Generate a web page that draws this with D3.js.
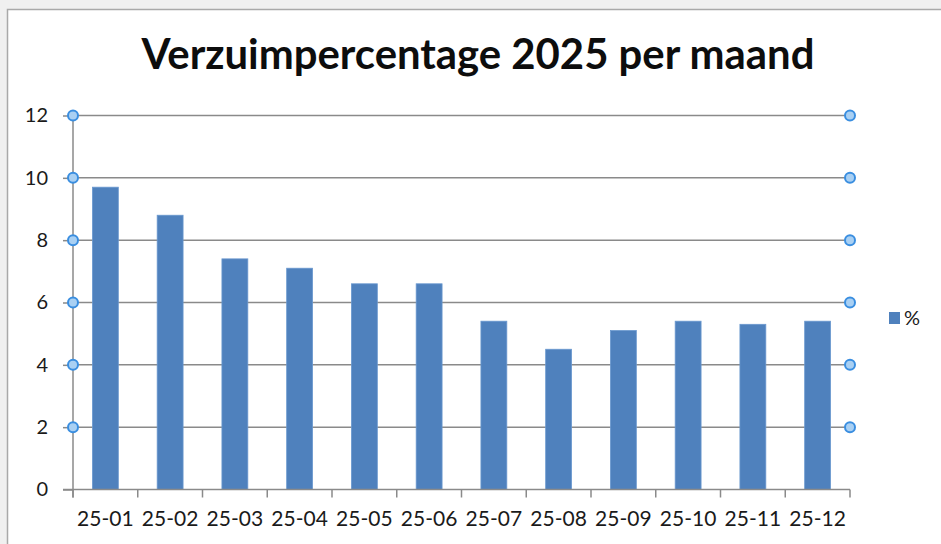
<!DOCTYPE html>
<html>
<head>
<meta charset="utf-8">
<script src="https://cdn.jsdelivr.net/npm/d3@7"></script>
<style>
  body { margin: 0; background: #f0f0f0; }
  svg { display: block; font-family: Lato, "Open Sans", sans-serif; }
</style>
</head>
<body>
<svg id="chart" width="941" height="544"></svg>
<script>
// data
var months = ["25-01","25-02","25-03","25-04","25-05","25-06","25-07","25-08","25-09","25-10","25-11","25-12"];
var percent = [9.7, 8.8, 7.4, 7.1, 6.6, 6.6, 5.4, 4.5, 5.1, 5.4, 5.3, 5.4];
var yTicks = [0, 2, 4, 6, 8, 10, 12];
var seriesName = "%";
var title = "Verzuimpercentage 2025 per maand";

var svg = d3.select("#chart");

// chart frame (runs off the right and bottom of the window)
svg.append("rect")
  .attr("x", 7.5).attr("y", 9.5)
  .attr("width", 960).attr("height", 560)
  .attr("fill", "#fff")
  .attr("stroke", "#a9a9a9")
  .attr("stroke-width", 1.5);

var plotLeft = 73, plotRight = 850, plotTop = 115.5, plotBottom = 489.5;

var y = d3.scaleLinear().domain([0, 12]).range([plotBottom, plotTop]);
var x = d3.scaleBand()
  .domain(months)
  .range([plotLeft, plotRight])
  .paddingInner(0.6)
  .paddingOuter(0.3);

var gridColor = "#8a8a8a";

// gridlines
svg.append("g").selectAll("line")
  .data(yTicks.filter(function(d){ return d > 0; }))
  .enter().append("line")
  .attr("x1", plotLeft).attr("x2", plotRight)
  .attr("y1", function(d){ return y(d); })
  .attr("y2", function(d){ return y(d); })
  .attr("stroke", gridColor)
  .attr("stroke-width", 1.5);

// bars
svg.append("g").selectAll("rect")
  .data(percent)
  .enter().append("rect")
  .attr("x", function(d, i){ return x(months[i]); })
  .attr("width", x.bandwidth())
  .attr("y", function(d){ return y(d); })
  .attr("height", function(d){ return plotBottom - y(d); })
  .attr("fill", "#4f81bd")
  .attr("stroke", "#6a98cf")
  .attr("stroke-width", 0.8);

// y axis
var yAxis = d3.axisLeft(y).tickValues(yTicks).tickSize(10).tickPadding(15);
var yG = svg.append("g").attr("transform", "translate(" + plotLeft + ",0)").call(yAxis);
yG.select(".domain").remove();
yG.selectAll(".tick line").attr("stroke", gridColor).attr("stroke-width", 1.5);
yG.selectAll(".tick text")
  .attr("font-size", 20)
  .attr("font-family", "Lato, sans-serif")
  .attr("fill", "#1a1a1a");

svg.append("line")
  .attr("x1", plotLeft).attr("x2", plotLeft)
  .attr("y1", plotTop).attr("y2", plotBottom + 8)
  .attr("stroke", gridColor).attr("stroke-width", 1.5);

// x axis labels
var xAxis = d3.axisBottom(x).tickSize(0).tickPadding(22);
var xG = svg.append("g").attr("transform", "translate(0," + plotBottom + ")").call(xAxis);
xG.select(".domain").remove();
xG.selectAll(".tick text")
  .attr("font-size", 21)
  .attr("font-family", "Lato, sans-serif")
  .attr("fill", "#1a1a1a");

svg.append("line")
  .attr("x1", plotLeft - 10).attr("x2", plotRight)
  .attr("y1", plotBottom).attr("y2", plotBottom)
  .attr("stroke", gridColor).attr("stroke-width", 1.5);

// x tick marks at category borders
var step = x.step();
var borders = months.map(function(m){ return x(m) - step * 0.3; }).concat([plotRight]);
svg.append("g").selectAll("line")
  .data(borders)
  .enter().append("line")
  .attr("x1", function(d){ return d; }).attr("x2", function(d){ return d; })
  .attr("y1", plotBottom).attr("y2", plotBottom + 8)
  .attr("stroke", gridColor).attr("stroke-width", 1.5);

// selection handles at gridline ends
var handles = [];
yTicks.filter(function(d){ return d > 0; }).forEach(function(d){
  handles.push({x: plotLeft, v: d});
  handles.push({x: plotRight, v: d});
});
svg.append("g").selectAll("circle")
  .data(handles)
  .enter().append("circle")
  .attr("cx", function(d){ return d.x; })
  .attr("cy", function(d){ return y(d.v); })
  .attr("r", 5)
  .attr("fill", "#a9d0f3")
  .attr("stroke", "#3a8ee0")
  .attr("stroke-width", 2);

// legend
svg.append("rect")
  .attr("x", 889).attr("y", 312)
  .attr("width", 11).attr("height", 12)
  .attr("fill", "#4f81bd");
svg.append("text")
  .attr("x", 904).attr("y", 325)
  .attr("font-size", 20)
  .attr("fill", "#1a1a1a")
  .text(seriesName);

// title, sized to the width it takes in the picture
var t = svg.append("text")
  .attr("x", 478).attr("y", 69)
  .attr("text-anchor", "middle")
  .attr("font-weight", "bold")
  .attr("font-size", 36)
  .attr("fill", "#0d0d0d")
  .text(title);
var w = t.node().getComputedTextLength();
t.attr("font-size", 36 * 673 / w);
</script>
</body>
</html>
